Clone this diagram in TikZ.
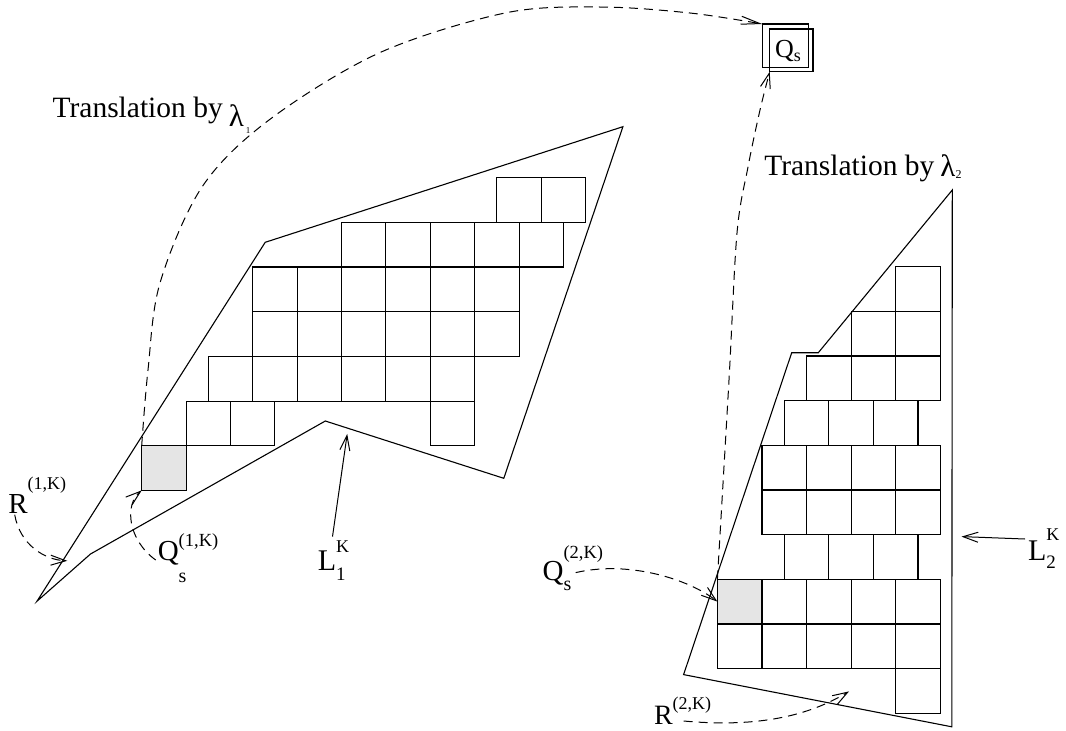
\documentclass[tikz,border=0pt]{standalone}
\usepackage{fontspec}
\setmainfont{Liberation Serif}
\usetikzlibrary{arrows.meta}
\definecolor{cellgray}{gray}{0.9}
\newcommand\fsz[1]{\fontsize{#1}{#1}\selectfont}
\tikzset{
  edgeline/.style={line width=1.1pt, line join=miter},
  cell/.style={line width=1.1pt},
  graycell/.style={draw, line width=1.1pt, fill=cellgray, inner sep=0pt, outer sep=0pt, anchor=north west},
  dsh/.style={line width=1pt, dash pattern=on 9pt off 6pt},
  tipA/.style={-{Straight Barb[length=15pt,width=10pt]}},
  tipB/.style={-{Straight Barb[length=19pt,width=8pt]}},
  lbl/.style={anchor=base west, inner sep=0pt, outer sep=0pt},
  qbox/.style={draw, line width=1.1pt, inner sep=0pt, outer sep=0pt},
}
\begin{document}
\begin{tikzpicture}[x=1pt,y=-1pt]
\useasboundingbox (0,0) rectangle (1066,731);

% ---------- left region ----------
\draw[edgeline] (37,601.2) -- (265.2,242.3) -- (622.9,126.7) -- (503.8,478.3) -- (325.3,421) -- (90.5,554) -- cycle;
\foreach \c/\r in {6.5/0,7.5/0,3/1,4/1,5/1,6/1,7/1,1/2,2/2,3/2,4/2,5/2,6/2,1/3,2/3,3/3,4/3,5/3,6/3,0/4,1/4,2/4,3/4,4/4,5/4,-0.5/5,0.5/5,5/5}
  \draw[cell] ({208.3+44.4*\c},{177.7+44.67*\r}) rectangle ++(44.4,44.67);
\node[graycell, minimum width=44.4pt, minimum height=44.67pt] (g1) at (141.7,445.7) {};

% ---------- right region ----------
\draw[edgeline] (683.6,674.6) -- (791.7,352.7) -- (818.3,352.7) -- (952.3,190) -- (951.8,726.8) -- cycle;
\foreach \c/\r in {4/0,3/1,4/1,2/2,3/2,4/2,1.5/3,2.5/3,3.5/3,1/4,2/4,3/4,4/4,1/5,2/5,3/5,4/5,1.5/6,2.5/6,3.5/6,1/7,2/7,3/7,4/7,0/8,1/8,2/8,3/8,4/8,4/9}
  \draw[cell] ({717.4+44.58*\c},{266.7+44.66*\r}) rectangle ++(44.58,44.66);
\node[graycell, minimum width=44.58pt, minimum height=44.66pt] (g2) at (717.4,579.3) {};

% ---------- Q_s boxes ----------
\node[qbox, minimum width=46pt, minimum height=43.7pt] (qsA) at (785.3,45.85) {};
\node[qbox, minimum width=43.3pt, minimum height=42.7pt] (qsB) at (791.35,50.35) {};
\node[lbl, font=\fsz{26}] (qslabel) at (775,57) {Q\raisebox{-4.7pt}{\fsz{18}s}};

% ---------- texts ----------
\node[lbl, font=\fsz{29.5}] (trans1) at (52.6,117.3) {Translation by\hspace{6pt}\raisebox{-8.7pt}{\fsz{31}λ}\hspace{2pt}\raisebox{-15.7pt}{\fsz{9}1}};
\node[lbl, font=\fsz{29.5}] (trans2) at (764.3,175) {Translation by\hspace{6pt}\raisebox{-1pt}{\fsz{31}λ}\raisebox{-3.3pt}{\fsz{12}2}};

\node[lbl, font=\fsz{29}] (rone) at (8.4,513) {R\raisebox{23.5pt}{\fsz{18}(1,K)}};
\node[lbl, font=\fsz{29}] (qone) at (157.8,560) {Q\rlap{\raisebox{-22pt}{\fsz{20}s}}\raisebox{13.3pt}{\fsz{18.5}(1,K)}};
\node[lbl, font=\fsz{30}] (lone) at (317.8,570) {L\rlap{\raisebox{-10pt}{\fsz{19}1}}\raisebox{18pt}{\fsz{18}K}};
\node[lbl, font=\fsz{29}] (qtwo) at (542.6,580.5) {Q\rlap{\raisebox{-10pt}{\fsz{20}s}}\raisebox{21.8pt}{\fsz{18.5}(2,K)}};
\node[lbl, font=\fsz{28}] (rtwo) at (654,724.5) {R\raisebox{14.6pt}{\fsz{18}(2,K)}};
\node[lbl, font=\fsz{30}] (ltwo) at (1028,560) {L\rlap{\raisebox{-8pt}{\fsz{19}2}}\raisebox{20pt}{\fsz{18}K}};

% ---------- connector end points ----------
\coordinate (ronestart) at (14.7,514.7);
\coordinate (roneend) at (67.3,560.8);
\coordinate (qonestart) at (155.7,560);
\coordinate (lonestart) at (332.5,536.6);
\coordinate (loneend) at (347.2,433.9);
\coordinate (qtwostart) at (575.7,572.6);
\coordinate (rtwostart) at (683.6,721);
\coordinate (rtwoend) at (849,691.4);
\coordinate (ltwostart) at (1025,539);
\coordinate (ltwoend) at (961.5,536.6);

% ---------- connectors ----------
\draw[dsh,tipB] plot[smooth, tension=0.55] coordinates {(g1.north west) (148,370) (160,283) (202,187) (269,120) (379,53) (505,13) (600,7) (690,13) (qsA.north west)};
\draw[dsh,tipA] plot[smooth, tension=0.55] coordinates {(g2.north west) (729,380) (737,233) (748,167) (760,110) (qsB.south west)};

\draw[dsh,tipA] (ronestart) .. controls (20,545) and (45,560) .. (roneend);
\draw[dsh,tipA] (qonestart) .. controls (128,540) and (124,505) .. (g1.south west);
\draw[line width=1pt,tipA] (lonestart) -- (loneend);
\draw[dsh,tipA] (qtwostart) .. controls (630,560) and (690,580) .. (g2.west);
\draw[dsh,tipA] (rtwostart) .. controls (760,728) and (810,715) .. (rtwoend);
\draw[line width=1pt,tipA] (ltwostart) -- (ltwoend);
\end{tikzpicture}
\end{document}
